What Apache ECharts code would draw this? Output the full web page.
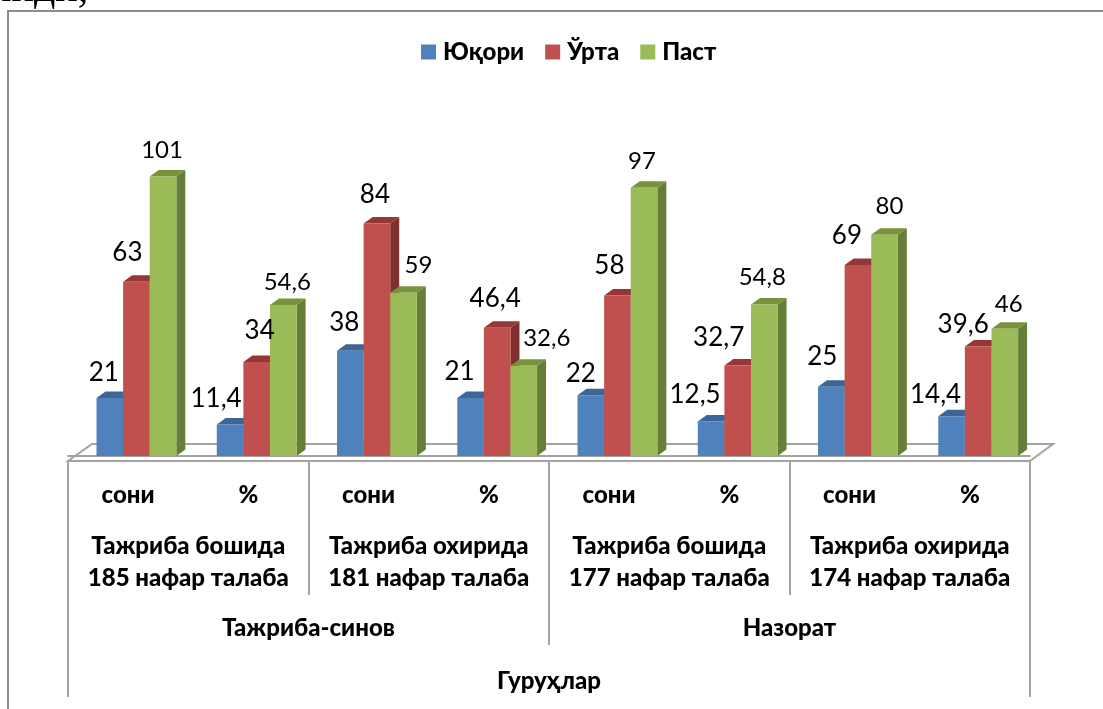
<!DOCTYPE html>
<html>
<head>
<meta charset="utf-8">
<title>Гуруҳлар</title>
<style>
  html, body { margin: 0; padding: 0; background: #fff; }
  #chart { width: 1103px; height: 709px; }
</style>
<script src="https://cdn.jsdelivr.net/npm/echarts@6/dist/echarts.min.js"></script>
</head>
<body>
<div id="chart"></div>
<script>
var seriesNames = ["Юқори", "Ўрта", "Паст"];
var level1 = ["сони", "%", "сони", "%", "сони", "%", "сони", "%"];
var level2 = [
  "Тажриба бошида\n185 нафар талаба",
  "Тажриба охирида\n181 нафар талаба",
  "Тажриба бошида\n177 нафар талаба",
  "Тажриба охирида\n174 нафар талаба"
];
var level3 = ["Тажриба-синов", "Назорат"];
var level4 = ["Гуруҳлар"];

var yuqori = [21, 11.4, 38, 21, 22, 12.5, 25, 14.4];
var urta = [63, 34, 84, 46.4, 58, 32.7, 69, 39.6];
var past = [101, 54.6, 59, 32.6, 97, 54.8, 80, 46];

// подписи в оригинале расставлены вручную, поэтому сдвиг для каждой своя
var labelNudge = [
  [[-6, -25], [-14, -26], [-6, -28], [-11, -26], [-10, -22], [-16, -27], [-9, -30], [-16, -22]],
  [[-9, -29], [3, -31], [-2, -29], [-2, -29], [-8, -30], [-19, -28], [-11, -29], [-15, -22]],
  [[-1, -26], [4, -23], [15, -28], [23, -28], [-2, -26], [-2, -27], [5, -28], [4, -24]]
];
var labelSize = [26, 26, 24];

var faceColors = [
  { front: "#4f81bd", top: "#3d6595", side: "#3a5f8c" },
  { front: "#c0504d", top: "#953735", side: "#7f2f2d" },
  { front: "#9bbb59", top: "#77933c", side: "#677e39" }
];

var FONT = "Lato, 'Open Sans', 'Noto Sans', sans-serif";
var GRID_LINE = "#a3a3a3";
var BAR_W = 26.6;
var GROUP_SHIFT = 8.3;
var DEPTH_X = 9;
var DEPTH_Y = 6.5;

function makeBarRenderer(si) {
  var c = faceColors[si];
  return function (params, api) {
    var idx = api.value(0);
    var val = api.value(1);
    var top = api.coord([idx, val]);
    var base = api.coord([idx, 0]);
    var x0 = top[0] + GROUP_SHIFT + (si - 1.5) * BAR_W;
    var x1 = x0 + BAR_W;
    var nudge = labelNudge[si][idx];
    return {
      type: "group",
      children: [
        {
          type: "polygon",
          shape: { points: [[x1, top[1]], [x1 + DEPTH_X, top[1] - DEPTH_Y], [x1 + DEPTH_X, base[1] - DEPTH_Y], [x1, base[1]]] },
          style: { fill: c.side }
        },
        {
          type: "polygon",
          shape: { points: [[x0, top[1]], [x0 + DEPTH_X, top[1] - DEPTH_Y], [x1 + DEPTH_X, top[1] - DEPTH_Y], [x1, top[1]]] },
          style: { fill: c.top }
        },
        {
          type: "rect",
          shape: { x: x0, y: top[1], width: BAR_W, height: base[1] - top[1] },
          style: { fill: c.front }
        },
        {
          type: "text",
          z2: 100,
          style: {
            x: (x0 + x1) / 2 + nudge[0],
            y: top[1] + nudge[1],
            text: String(val).replace(".", ","),
            align: "center",
            verticalAlign: "middle",
            fill: "#000",
            font: labelSize[si] + "px " + FONT
          }
        }
      ]
    };
  };
}

function makeSeries(si, values) {
  return {
    name: seriesNames[si],
    type: "custom",
    xAxisIndex: 0,
    yAxisIndex: 0,
    clip: false,
    silent: true,
    itemStyle: { color: faceColors[si].front },
    data: values.map(function (v, i) { return [i, v]; }),
    encode: { x: 0, y: 1 },
    renderItem: makeBarRenderer(si)
  };
}

function makeLevelAxis(data, tickLen, margin, lineHeight, showLine) {
  return {
    type: "category",
    position: "bottom",
    offset: 5,
    data: data,
    axisLine: { show: showLine, lineStyle: { color: GRID_LINE, width: 2 } },
    axisTick: { show: tickLen > 0, length: tickLen, lineStyle: { color: GRID_LINE, width: 2 } },
    axisLabel: {
      interval: 0,
      margin: margin,
      color: "#000",
      fontFamily: FONT,
      fontWeight: 900,
      fontSize: 24,
      lineHeight: lineHeight
    }
  };
}

var chart = echarts.init(document.getElementById("chart"));
chart.setOption({
  backgroundColor: "#fff",
  animation: false,
  legend: {
    left: 416,
    top: 35,
    icon: "rect",
    itemWidth: 15,
    itemHeight: 15,
    itemGap: 21,
    selectedMode: false,
    data: seriesNames,
    textStyle: { color: "#000", fontFamily: FONT, fontWeight: 900, fontSize: 24, padding: [0, 0, 0, 2] }
  },
  grid: { left: 68, right: 73, top: 124, bottom: 253 },
  xAxis: [
    makeLevelAxis(level1, 0, 22, 24, true),
    makeLevelAxis(level2, 134, 69, 32, false),
    makeLevelAxis(level3, 184, 155, 24, false),
    makeLevelAxis(level4, 236, 208, 24, false)
  ],
  yAxis: { type: "value", min: 0, max: 120, show: false },
  graphic: [
    {
      type: "polyline",
      shape: { points: [[8, 709], [8, 11], [1103, 11]] },
      style: { stroke: "#8c8c8c", lineWidth: 2, fill: null }
    },
    {
      type: "polygon",
      shape: { points: [[68, 461], [92, 444], [1053, 444], [1030, 461]] },
      style: { stroke: GRID_LINE, lineWidth: 2, fill: "#fff" }
    },
    {
      type: "text",
      left: -11,
      top: -31,
      style: { text: "инди,", fill: "#000", font: "42px 'Liberation Serif', serif" }
    }
  ],
  series: [makeSeries(0, yuqori), makeSeries(1, urta), makeSeries(2, past)]
});
</script>
</body>
</html>
